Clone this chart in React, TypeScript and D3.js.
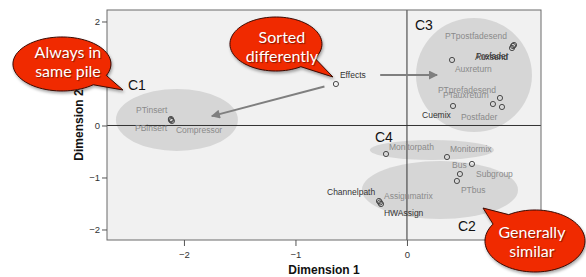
import React, { useEffect, useRef } from 'react'
import * as d3 from 'd3'

// object coordinates (dimension 1, dimension 2)
const pointNames = [
  'Effects', 'PTinsert', 'PBinsert', 'Compressor',
  'PTpostfadesend', 'Auxsend', 'Prefader', 'Auxreturn', 'Cuemix', 'PTprefadesend', 'PTauxreturn', 'Postfader',
  'Monitorpath', 'Monitormix',
  'Bus', 'Subgroup', 'PTbus', 'Channelpath', 'Assignmatrix', 'HWAssign',
]
const dim1 = [
  -0.637, -2.117, -2.108, -2.117,
  0.96, 0.951, 0.942, 0.404, 0.413, 0.834, 0.771, 0.852,
  -0.188, 0.359,
  0.583, 0.475, 0.448, -0.251, -0.233, -0.242,
]
const dim2 = [
  0.798, 0.125, 0.087, 0.106,
  1.548, 1.529, 1.49, 1.26, 0.375, 0.529, 0.413, 0.356,
  -0.548, -0.606,
  -0.74, -0.933, -1.067, -1.452, -1.51, -1.48,
]

// where the label text sits (in data units) and how dark it is
const labelX = [
  -0.601, -2.43, -2.439, -2.072,
  0.341, 0.61, 0.619, 0.43, 0.135, 0.278, 0.323, 0.484,
  -0.161, 0.386,
  0.404, 0.619, 0.484, -0.717, -0.206, -0.206,
]
const labelY = [
  0.971, 0.298, -0.048, -0.087,
  1.721, 1.317, 1.337, 1.087, 0.202, 0.683, 0.587, 0.163,
  -0.413, -0.452,
  -0.76, -0.933, -1.24, -1.279, -1.356, -1.683,
]
const labelDark = [
  true, false, false, false,
  false, true, true, false, true, false, false, false,
  false, false,
  false, false, false, true, false, true,
]

// clusters
const clusterNames = ['C1', 'C3', 'C4', 'C2']
const clusterCx = [-2.063, 0.601, 0.224, 0.296]
const clusterCy = [0.106, 0.971, -0.471, -1.24]
const clusterRx = [0.547, 0.52, 0.556, 0.7]
const clusterRy = [0.596, 1.096, 0.192, 0.558]
const clusterLabelX = [-2.502, 0.072, -0.287, 0.457]
const clusterLabelY = [0.779, 1.933, -0.221, -1.933]

// arrows from Effects
const arrowFrom = [[-0.74, 0.75], [-0.24, 0.97]]
const arrowTo = [[-1.75, 0.18], [0.27, 0.97]]

// ticks at 1 sit under the bubbles, so only the visible ones
const xTicks = [-2, -1, 0]
const yTicks = [-2, -1, 0, 2]

// speech bubbles
const calloutLines = [['Always in', 'same pile'], ['Sorted', 'differently'], ['Generally', 'similar']]
const calloutCenter = [[-3.094, 1.183], [-1.175, 1.567], [1.148, -2.221]]
const calloutTip = [[-2.547, 0.683], [-0.664, 0.933], [0.682, -1.587]]
const calloutRadii = [[49, 27], [46, 27], [50, 31]]
const calloutTextOffset = [[6, -12], [6, -7], [-3, -9]]

const W = 586
const H = 277
const margin = { top: 10, right: 45, bottom: 37, left: 107 }

function bubblePath(cx: number, cy: number, rx: number, ry: number, tx: number, ty: number) {
  const theta = Math.atan2((ty - cy) / ry, (tx - cx) / rx)
  const w = 0.22
  const p = d3.path()
  const n = 80
  for (let i = 0; i <= n; i++) {
    const a = theta + w + (i / n) * (2 * Math.PI - 2 * w)
    const px = cx + rx * Math.cos(a)
    const py = cy + ry * Math.sin(a)
    if (i === 0) p.moveTo(px, py)
    else p.lineTo(px, py)
  }
  p.lineTo(tx, ty)
  p.closePath()
  return p.toString()
}

export default function App() {
  const ref = useRef<SVGSVGElement>(null)

  useEffect(() => {
    const svg = d3.select(ref.current)
    svg.selectAll('*').remove()

    const x = d3.scaleLinear().domain([-2.69, 1.202]).range([margin.left, W - margin.right])
    const y = d3.scaleLinear().domain([-2.202, 2.221]).range([H - margin.bottom, margin.top])
    const sx = (v: number) => Math.abs(x(v) - x(0))
    const sy = (v: number) => Math.abs(y(v) - y(0))

    const defs = svg.append('defs')
    const marker = defs
      .append('marker')
      .attr('id', 'arrowhead')
      .attr('viewBox', '0 0 10 10')
      .attr('refX', 9)
      .attr('refY', 5)
      .attr('markerWidth', 6.5)
      .attr('markerHeight', 4.5)
      .attr('orient', 'auto')
      .attr('markerUnits', 'strokeWidth')
    marker.append('path').attr('d', 'M0,0L10,5L0,10Z').attr('fill', '#7f7f7f')

    const shadow = defs.append('filter').attr('id', 'shadow').attr('x', '-20%').attr('y', '-20%').attr('width', '140%').attr('height', '150%')
    shadow
      .append('feDropShadow')
      .attr('dx', 1)
      .attr('dy', 2)
      .attr('stdDeviation', 1.5)
      .attr('flood-color', '#000')
      .attr('flood-opacity', 0.35)

    // plot background
    svg
      .append('rect')
      .attr('x', x(-2.69))
      .attr('y', y(2.221))
      .attr('width', x(1.202) - x(-2.69))
      .attr('height', y(-2.202) - y(2.221))
      .attr('fill', '#f1f1f1')

    // cluster ellipses
    svg
      .append('g')
      .selectAll('ellipse')
      .data(clusterNames)
      .enter()
      .append('ellipse')
      .attr('cx', (d, i) => x(clusterCx[i]))
      .attr('cy', (d, i) => y(clusterCy[i]))
      .attr('rx', (d, i) => sx(clusterRx[i]))
      .attr('ry', (d, i) => sy(clusterRy[i]))
      .attr('fill', '#d6d6d6')

    // reference lines
    svg
      .append('line')
      .attr('x1', x(0))
      .attr('x2', x(0))
      .attr('y1', y(2.221))
      .attr('y2', y(-2.202))
      .attr('stroke', '#333')
      .attr('stroke-width', 1)
    svg
      .append('line')
      .attr('x1', x(-2.69))
      .attr('x2', x(1.202))
      .attr('y1', y(0))
      .attr('y2', y(0))
      .attr('stroke', '#333')
      .attr('stroke-width', 1)

    // frame
    svg
      .append('rect')
      .attr('x', x(-2.69))
      .attr('y', y(2.221))
      .attr('width', x(1.202) - x(-2.69))
      .attr('height', y(-2.202) - y(2.221))
      .attr('fill', 'none')
      .attr('stroke', '#6a6a6a')
      .attr('stroke-width', 1)

    // axes
    const xAxis = svg
      .append('g')
      .attr('transform', `translate(0,${H - margin.bottom})`)
      .call(d3.axisBottom(x).tickValues(xTicks).tickSize(6).tickFormat(d3.format('d')))
    const yAxis = svg
      .append('g')
      .attr('transform', `translate(${margin.left},0)`)
      .call(d3.axisLeft(y).tickValues(yTicks).tickSize(5).tickFormat(d3.format('d')))
    ;[xAxis, yAxis].forEach((ax) => {
      ax.select('.domain').remove()
      ax.selectAll('line').attr('stroke', '#555')
      ax.selectAll('text')
        .attr('fill', '#333')
        .style('font-family', 'Liberation Sans, Arial, sans-serif')
        .style('font-size', '9.5px')
    })
    xAxis.selectAll('text').attr('dy', '0.9em')
    yAxis.selectAll('text').attr('x', -7)

    // axis titles
    svg
      .append('text')
      .attr('x', (x(-2.69) + x(1.202)) / 2)
      .attr('y', 274)
      .attr('text-anchor', 'middle')
      .style('font-family', 'Liberation Sans, Arial, sans-serif')
      .style('font-size', '12px')
      .style('font-weight', 'bold')
      .attr('fill', '#111')
      .text('Dimension 1')
    svg
      .append('text')
      .attr('transform', `translate(83,${(y(2.221) + y(-2.202)) / 2}) rotate(-90)`)
      .attr('text-anchor', 'middle')
      .style('font-family', 'Liberation Sans, Arial, sans-serif')
      .style('font-size', '12px')
      .style('font-weight', 'bold')
      .attr('fill', '#111')
      .text('Dimension 2')

    // arrows
    svg
      .append('g')
      .selectAll('line')
      .data(arrowFrom)
      .enter()
      .append('line')
      .attr('x1', (d) => x(d[0]))
      .attr('y1', (d) => y(d[1]))
      .attr('x2', (d, i) => x(arrowTo[i][0]))
      .attr('y2', (d, i) => y(arrowTo[i][1]))
      .attr('stroke', '#7f7f7f')
      .attr('stroke-width', 2)
      .attr('marker-end', 'url(#arrowhead)')

    // points
    svg
      .append('g')
      .selectAll('circle')
      .data(pointNames)
      .enter()
      .append('circle')
      .attr('cx', (d, i) => x(dim1[i]))
      .attr('cy', (d, i) => y(dim2[i]))
      .attr('r', 2.6)
      .attr('fill', 'none')
      .attr('stroke', '#4a4a4a')
      .attr('stroke-width', 1)

    // point labels
    svg
      .append('g')
      .selectAll('text')
      .data(pointNames)
      .enter()
      .append('text')
      .attr('x', (d, i) => x(labelX[i]))
      .attr('y', (d, i) => y(labelY[i]))
      .attr('dy', '0.35em')
      .style('font-family', 'Liberation Sans, Arial, sans-serif')
      .style('font-size', '8.5px')
      .attr('fill', (d, i) => (labelDark[i] ? '#333' : '#8a8a8a'))
      .text((d) => d)

    // cluster labels
    svg
      .append('g')
      .selectAll('text')
      .data(clusterNames)
      .enter()
      .append('text')
      .attr('x', (d, i) => x(clusterLabelX[i]))
      .attr('y', (d, i) => y(clusterLabelY[i]))
      .attr('dy', '0.36em')
      .style('font-family', 'Liberation Sans, Arial, sans-serif')
      .style('font-size', '14px')
      .attr('fill', '#111')
      .text((d) => d)

    // speech bubbles
    const callouts = svg
      .append('g')
      .selectAll('g')
      .data(calloutLines)
      .enter()
      .append('g')

    callouts
      .append('path')
      .attr('d', (d, i) =>
        bubblePath(
          x(calloutCenter[i][0]),
          y(calloutCenter[i][1]),
          calloutRadii[i][0],
          calloutRadii[i][1],
          x(calloutTip[i][0]),
          y(calloutTip[i][1])
        )
      )
      .attr('fill', '#f02a00')
      .attr('stroke', '#3a0800')
      .attr('stroke-width', 1)
      .attr('filter', 'url(#shadow)')

    callouts.each(function (lines, i) {
      const g = d3.select(this)
      const cx = x(calloutCenter[i][0]) + calloutTextOffset[i][0]
      const cy = y(calloutCenter[i][1]) + calloutTextOffset[i][1]
      lines.forEach((line, j) => {
        g.append('text')
          .attr('x', cx)
          .attr('y', cy + j * 19)
          .attr('dy', '0.35em')
          .attr('text-anchor', 'middle')
          .style('font-family', 'Lato, "Open Sans", sans-serif')
          .style('font-size', '16px')
          .style('text-shadow', '1px 1px 1px rgba(0,0,0,0.45)')
          .attr('fill', '#fff')
          .text(line)
      })
    })
  }, [])

  return (
    <div style={{ position: 'absolute', left: 0, top: 0 }}>
      <svg ref={ref} width={W} height={H} style={{ display: 'block', background: '#fff' }} />
    </div>
  )
}
